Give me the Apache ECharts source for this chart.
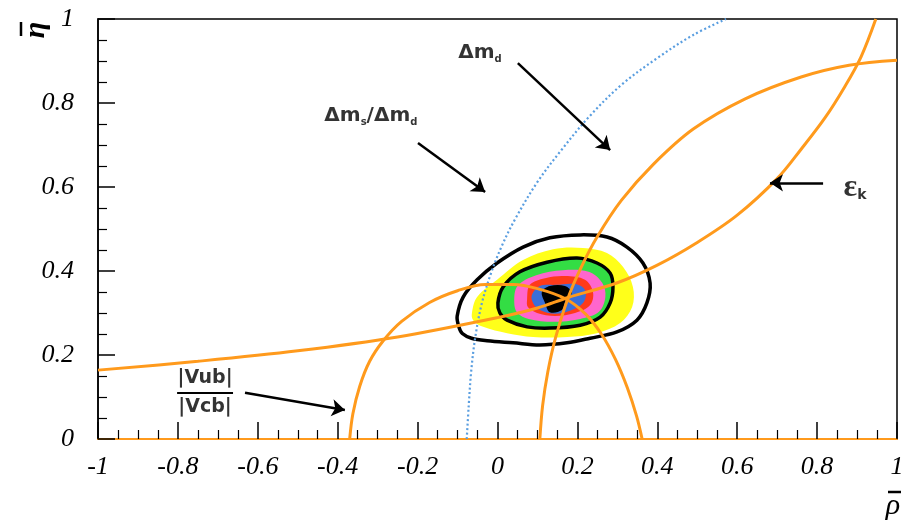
<!DOCTYPE html>
<html>
<head>
<meta charset="utf-8">
<script src="https://cdn.jsdelivr.net/npm/echarts@6/dist/echarts.min.js"></script>
<style>html,body{margin:0;padding:0;background:#fff}#c{width:907px;height:531px}</style>
</head>
<body>
<div id="c"></div>
<script>
// ---- tick labels ----
const xTickLabels = ['-1','-0.8','-0.6','-0.4','-0.2','0','0.2','0.4','0.6','0.8','1'];
const yTickLabels = ['0','0.2','0.4','0.6','0.8','1'];

// ---- constraint curves (rho, eta) ----
const vubArc = [[-0.370,0.0],[-0.362,0.060],[-0.345,0.125],[-0.320,0.185],[-0.285,0.235],[-0.240,0.280],[-0.170,0.325],[-0.100,0.353],[-0.030,0.368],[0.040,0.368],[0.100,0.358],[0.170,0.334],[0.220,0.298],[0.260,0.250],[0.295,0.190],[0.325,0.122],[0.348,0.055],[0.362,0.0]];
const epsKCurve = [[-1.0,0.164],[-0.750,0.185],[-0.500,0.210],[-0.250,0.243],[0.0,0.289],[0.100,0.312],[0.177,0.337],[0.300,0.372],[0.400,0.414],[0.500,0.468],[0.600,0.533],[0.700,0.620],[0.760,0.690],[0.820,0.765],[0.870,0.840],[0.910,0.910],[0.947,1.0]];
const dmdCurve = [[0.106,0.0],[0.113,0.080],[0.126,0.160],[0.145,0.240],[0.177,0.337],[0.210,0.410],[0.250,0.482],[0.310,0.568],[0.390,0.654],[0.490,0.738],[0.620,0.810],[0.760,0.862],[0.880,0.890],[1.0,0.902]];
const dmsCurve = [[-0.077,0.0],[-0.072,0.080],[-0.066,0.160],[-0.056,0.240],[-0.040,0.320],[-0.018,0.390],[0.010,0.458],[0.045,0.525],[0.100,0.612],[0.160,0.688],[0.230,0.768],[0.310,0.843],[0.400,0.907],[0.490,0.962],[0.572,1.0]];

// ---- fit contours (rho, eta) ----
const contourOuter = [[-0.097,0.268],[-0.101,0.292],[-0.086,0.338],[-0.051,0.379],[-0.001,0.419],[0.064,0.457],[0.131,0.479],[0.207,0.486],[0.274,0.481],[0.324,0.457],[0.364,0.419],[0.382,0.371],[0.374,0.324],[0.349,0.283],[0.299,0.255],[0.232,0.240],[0.174,0.229],[0.106,0.224],[0.039,0.229],[-0.026,0.234],[-0.065,0.240],[-0.088,0.251]];
const regionYellow = [[-0.064,0.300],[-0.051,0.338],[-0.001,0.379],[0.064,0.426],[0.139,0.452],[0.214,0.455],[0.274,0.443],[0.314,0.410],[0.339,0.362],[0.337,0.314],[0.307,0.276],[0.249,0.252],[0.174,0.243],[0.089,0.243],[0.024,0.252],[-0.036,0.267],[-0.061,0.283]];
const contourInner = [[0.001,0.324],[0.014,0.362],[0.056,0.398],[0.124,0.421],[0.199,0.431],[0.249,0.419],[0.282,0.395],[0.289,0.362],[0.282,0.324],[0.257,0.290],[0.207,0.271],[0.131,0.264],[0.074,0.267],[0.024,0.283],[0.006,0.300]];
const regionPink = [[0.042,0.324],[0.050,0.364],[0.097,0.390],[0.164,0.402],[0.228,0.398],[0.262,0.372],[0.270,0.338],[0.254,0.303],[0.207,0.286],[0.139,0.279],[0.078,0.286],[0.050,0.300]];
const regionRed = [[0.074,0.331],[0.081,0.367],[0.119,0.383],[0.169,0.388],[0.219,0.379],[0.239,0.350],[0.232,0.319],[0.194,0.300],[0.144,0.293],[0.099,0.300],[0.076,0.314]];
const regionBlue = [[0.086,0.343],[0.106,0.364],[0.146,0.367],[0.194,0.369],[0.219,0.355],[0.216,0.326],[0.186,0.307],[0.144,0.298],[0.106,0.307],[0.089,0.324]];
const regionCore = [[0.111,0.350],[0.131,0.364],[0.169,0.364],[0.186,0.348],[0.171,0.331],[0.161,0.307],[0.131,0.302],[0.119,0.324]];

const ORANGE = '#ff9a1c';

function polySeries(pts, fill, stroke, lw, z) {
  return {
    type: 'custom', data: pts, encode: {x: 0, y: 1}, z: z, silent: true,
    renderItem: function (params, api) {
      if (params.dataIndex !== 0) return null;
      return {
        type: 'polygon',
        shape: {points: pts.map(function (p) { return api.coord(p); }), smooth: 0.35},
        style: {fill: fill, stroke: stroke, lineWidth: lw}
      };
    }
  };
}
function curve(pts, color, width, type, z) {
  return {type: 'line', data: pts, smooth: 0.35, showSymbol: false, symbol: 'none', z: z, silent: true,
    lineStyle: {color: color, width: width, type: type}};
}
function textItem(pos, fmt, rich) {
  return {value: pos, label: {show: true, position: 'inside', formatter: fmt, rich: rich}};
}

const bold = {fontFamily: 'DejaVu Sans', fontWeight: 'bold', fontSize: 20, color: '#000'};
const sub = {fontFamily: 'DejaVu Sans', fontWeight: 'bold', fontSize: 10, color: '#000', padding: [12, 0, 0, 0]};
const frac = {fontFamily: 'DejaVu Sans', fontWeight: 'bold', fontSize: 19, color: '#000'};

const option = {
  animation: false,
  backgroundColor: '#fff',
  grid: {left: 98, right: 10, top: 19, bottom: 92, show: true, borderColor: '#000', borderWidth: 1.5, backgroundColor: 'transparent'},
  xAxis: {
    type: 'value', min: -1, max: 1, interval: 0.2,
    axisLine: {show: true, onZero: false, lineStyle: {color: ORANGE, width: 2}},
    axisTick: {show: true, inside: true, length: 17, lineStyle: {color: '#000', width: 1.5}},
    minorTick: {show: true, splitNumber: 4, length: 9, lineStyle: {color: '#000', width: 1.2}},
    splitLine: {show: false},
    axisLabel: {margin: 15, fontSize: 26, fontStyle: 'italic', fontFamily: 'Liberation Serif', color: '#000',
      formatter: function (v) { return xTickLabels[Math.round((v + 1) / 0.2)]; }}
  },
  yAxis: {
    type: 'value', min: 0, max: 1, interval: 0.2,
    axisLine: {show: true, onZero: false, lineStyle: {color: '#000', width: 1.5}},
    axisTick: {show: true, inside: true, length: 17, lineStyle: {color: '#000', width: 1.5}},
    minorTick: {show: true, splitNumber: 4, length: 9, lineStyle: {color: '#000', width: 1.2}},
    splitLine: {show: false},
    axisLabel: {margin: 24, fontSize: 26, fontStyle: 'italic', fontFamily: 'Liberation Serif', color: '#000',
      formatter: function (v) { return yTickLabels[Math.round(v / 0.2)]; }}
  },
  graphic: [
    {type: 'group', x: 36, y: 30, rotation: Math.PI / 2, children: [
      {type: 'text', style: {text: 'η', font: 'italic bold 30px "Liberation Serif"', fill: '#000', align: 'center', verticalAlign: 'middle'}},
      {type: 'line', shape: {x1: -6, y1: -15, x2: 8, y2: -15}, style: {stroke: '#000', lineWidth: 2.5}}
    ]},
    {type: 'group', x: 893, y: 506, children: [
      {type: 'text', style: {text: 'ρ', font: 'italic 30px "Liberation Serif"', fill: '#000', align: 'center', verticalAlign: 'middle'}},
      {type: 'line', shape: {x1: -5, y1: -14, x2: 8, y2: -14}, style: {stroke: '#000', lineWidth: 2.5}}
    ]}
  ],
  series: [
    polySeries(regionYellow, '#ffff1a', null, 0, 2),
    polySeries(contourInner, '#33dd44', '#000', 3.5, 3),
    polySeries(regionPink, '#ff66cc', null, 0, 3),
    polySeries(regionRed, '#ff3a1a', null, 0, 3),
    polySeries(regionBlue, '#3a6fd8', null, 0, 3),
    polySeries(regionCore, '#000', null, 0, 3),
    polySeries(contourOuter, 'transparent', '#000', 3.5, 3),
    curve(dmsCurve, '#5a9ee0', 2.2, [2, 2.5], 4),
    curve(vubArc, ORANGE, 3, 'solid', 5),
    curve(epsKCurve, ORANGE, 3, 'solid', 5),
    curve(dmdCurve, ORANGE, 3, 'solid', 5),
    {
      type: 'lines', coordinateSystem: 'cartesian2d', z: 6, silent: true,
      symbol: ['none', 'arrow'], symbolSize: [0, 13],
      lineStyle: {color: '#000', width: 2.5, opacity: 1},
      data: [
        {coords: [[-0.199, 0.705], [-0.031, 0.588]]},
        {coords: [[0.051, 0.895], [0.282, 0.688]]},
        {coords: [[0.815, 0.610], [0.682, 0.610]]},
        {coords: [[-0.632, 0.110], [-0.382, 0.069]]}
      ]
    },
    {
      type: 'lines', coordinateSystem: 'cartesian2d', z: 6, silent: true,
      symbol: ['none', 'none'],
      lineStyle: {color: '#000', width: 2, opacity: 1},
      data: [{coords: [[-0.802, 0.110], [-0.662, 0.110]]}]
    },
    {
      type: 'scatter', z: 7, silent: true, symbolSize: 1, itemStyle: {color: 'transparent'},
      data: [
        textItem([-0.317, 0.769], '{b|Δm}{s|s}{b|/Δm}{s|d}', {b: bold, s: sub}),
        textItem([-0.044, 0.919], '{b|Δm}{s|d}', {b: bold, s: sub}),
        textItem([0.895, 0.598], '{e|ε}{k|k}', {
          e: {fontFamily: 'Liberation Serif', fontWeight: 'bold', fontSize: 32, color: '#000'},
          k: {fontFamily: 'DejaVu Sans', fontWeight: 'bold', fontSize: 14, color: '#000', padding: [16, 0, 0, 0]}
        }),
        textItem([-0.732, 0.145], '{b||Vub|}', {b: frac}),
        textItem([-0.732, 0.075], '{b||Vcb|}', {b: frac})
      ]
    }
  ]
};
echarts.init(document.getElementById('c')).setOption(option);
</script>
</body>
</html>
